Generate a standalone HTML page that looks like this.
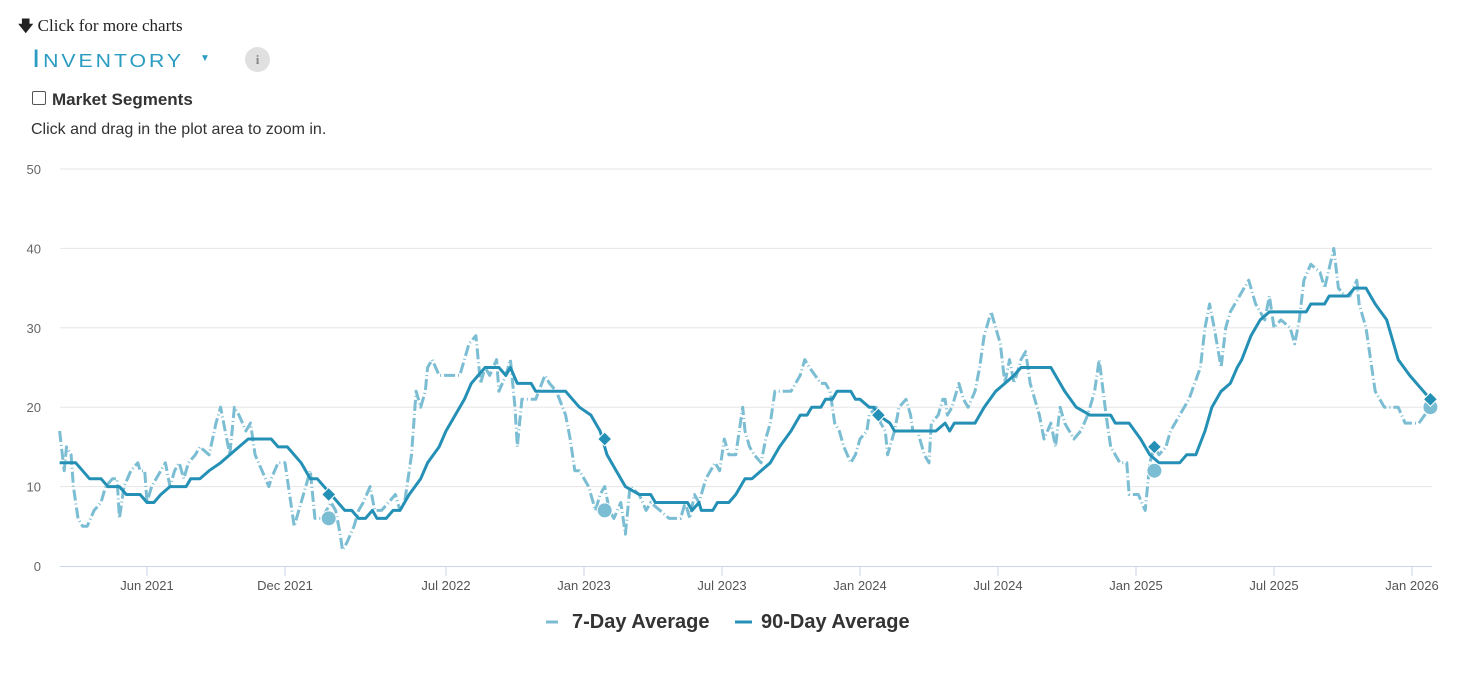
<!DOCTYPE html>
<html><head><meta charset="utf-8">
<style>
body{margin:0;width:1484px;height:674px;background:#fff;position:relative;overflow:hidden;font-family:"Liberation Sans",sans-serif;}
.abs{position:absolute;white-space:nowrap;}
</style></head><body>
<div class="abs" style="left:18px;top:16px;font-family:'Liberation Serif',serif;font-size:17px;color:#222;"><span style="font-family:'DejaVu Sans';font-weight:bold;font-size:15px">🡇</span> Click for more charts</div>
<div class="abs" style="left:32px;top:45px;font-size:25px;color:#2a9cc2;letter-spacing:2.5px;font-variant:small-caps;transform:scaleX(1.18);transform-origin:0 0;">Inventory</div>
<div class="abs" style="left:200px;top:53px;font-size:10px;color:#2a9cc2;">▼</div>
<div class="abs" style="left:245px;top:47px;width:25px;height:25px;border-radius:50%;background:#e0e0e0;color:#888;font-size:13px;font-weight:bold;text-align:center;line-height:25px;font-family:'Liberation Serif',serif;">i</div>
<div class="abs" style="left:32px;top:91px;width:12px;height:12px;border:1px solid #555;border-radius:2px;"></div>
<div class="abs" style="left:52px;top:90px;font-size:17px;font-weight:bold;color:#333;">Market Segments</div>
<div class="abs" style="left:31px;top:121px;font-size:16px;color:#333;">Click and drag in the plot area to zoom in.</div>
<svg id="chart" width="1484" height="674" style="position:absolute;left:0;top:0"></svg>
<script>
const yTicks=[0,10,20,30,40,50];
const xTickMonths=[5,11,18,24,30,36,42,48,54,60];
const xTickLabels=["Jun 2021","Dec 2021","Jul 2022","Jan 2023","Jul 2023","Jan 2024","Jul 2024","Jan 2025","Jul 2025","Jan 2026"];
const d90=[1.2,1.9,2.2,2.5,3.0,3.3,3.8,4.1,4.7,5.0,5.3,5.6,6.0,6.7,6.9,7.3,7.7,8.2,8.6,9.0,9.4,10.4,10.7,11.1,11.7,12.1,12.4,13.0,13.6,13.9,14.2,14.5,14.8,15.0,15.4,15.7,16.0,16.4,16.9,17.2,17.7,18.0,18.4,18.8,19.1,19.4,19.7,20.3,20.6,20.8,21.1,21.7,21.9,23.2,23.5,23.8,24.3,24.5,24.7,25.0,25.4,25.8,26.4,26.9,27.1,28.2,28.5,28.7,29.0,29.1,29.6,29.8,30.3,30.6,31.0,31.3,31.7,32.1,32.5,33.0,33.4,33.7,33.9,34.3,34.5,34.8,35.0,35.6,35.8,36.0,36.4,36.6,36.8,37.3,37.5,39.3,39.7,39.9,40.1,41.0,41.4,41.9,42.3,42.7,43.0,44.3,44.9,45.4,46.0,46.9,47.1,47.7,48.2,48.6,49.0,49.9,50.2,50.6,51.0,51.3,51.7,52.1,52.4,52.6,53.0,53.4,53.8,55.4,55.6,56.2,56.4,57.2,57.5,58.0,58.4,58.9,59.1,59.4,59.9,60.8];
const v90=[13,13,12,11,11,10,10,9,9,8,8,9,10,10,11,11,12,13,14,15,16,16,15,15,13,11,11,9,7,7,6,6,7,6,6,7,7,9,11,13,15,17,19,21,23,24,25,25,24,25,23,23,22,22,21,20,19,18,17,14,12,10,9,9,8,8,8,7,8,7,7,8,8,9,11,11,12,13,15,17,19,19,20,20,21,21,22,22,21,21,20,20,19,18,17,17,18,17,18,18,20,22,23,24,25,25,22,20,19,19,18,18,16,14,13,13,14,14,17,20,22,23,25,26,29,31,32,32,33,33,34,34,35,35,33,31,29,26,24,21];
const d7=[1.2,1.4,1.5,1.7,1.8,2.0,2.2,2.4,2.7,3.0,3.2,3.5,3.7,3.8,4.0,4.3,4.6,4.7,4.9,5.0,5.2,5.6,5.8,6.0,6.2,6.4,6.6,6.8,7.1,7.3,7.7,8.0,8.2,8.4,8.6,8.8,9.0,9.3,9.5,9.7,10.0,10.3,10.4,10.7,11.0,11.2,11.4,11.7,11.9,12.1,12.3,12.6,13.0,13.2,13.4,13.5,13.7,14.0,14.2,14.4,14.7,14.9,15.2,15.5,15.8,16.0,16.2,16.5,16.7,16.9,17.1,17.2,17.4,17.7,18.3,18.6,18.8,19.0,19.3,19.5,19.7,19.9,20.2,20.3,20.6,20.8,21.0,21.1,21.3,21.5,21.9,22.3,22.5,22.8,23.2,23.4,23.6,23.8,24.2,24.5,24.7,24.9,25.1,25.3,25.6,25.8,26.0,26.4,26.7,26.9,27.3,27.7,28.2,28.4,28.6,28.8,29.0,29.3,29.7,29.9,30.1,30.3,30.6,30.9,31.0,31.2,31.4,31.7,31.9,32.1,32.3,32.5,33.0,33.4,33.6,33.8,34.3,34.5,34.7,34.9,35.1,35.3,35.6,35.8,36.0,36.3,36.4,36.7,36.9,37.1,37.2,37.5,37.7,38.0,38.2,38.3,38.5,38.8,39.0,39.1,39.4,39.6,39.7,39.8,40.0,40.3,40.5,40.7,41.0,41.2,41.4,41.7,41.9,42.1,42.3,42.5,42.7,43.0,43.2,43.4,43.6,43.8,44.0,44.3,44.5,44.7,44.9,45.1,45.3,45.6,45.9,46.2,46.4,46.7,46.9,47.1,47.3,47.6,47.7,48.1,48.4,48.6,48.8,49.0,49.3,49.5,49.7,49.9,50.3,50.8,51.0,51.2,51.4,51.7,51.9,52.1,52.5,52.9,53.2,53.6,53.8,54.0,54.3,54.7,54.9,55.1,55.3,55.6,56.0,56.2,56.6,56.8,57.1,57.3,57.6,57.7,58.0,58.2,58.4,58.6,58.8,59.4,59.7,60.3,60.8];
const v7=[17,12,15,14,10,6,5,5,7,8,10,11,11,6,10,12,13,12,12,8,10,12,13,10,12,13,11,13,14,15,14,18,20,17,14,20,19,17,18,14,12,10,11,13,13,9,5,8,10,12,6,6,8,7,4,2,3,5,7,8,10,7,7,8,9,7,8,14,22,20,22,25,26,24,24,24,26,28,29,23,25,24,26,22,24,26,20,15,21,21,21,24,23,22,19,16,12,12,10,7,9,10,7,6,8,4,10,9,7,8,7,6,6,8,6,9,8,11,13,12,16,14,14,20,17,15,14,13,16,18,22,22,22,24,26,25,23,23,22,18,17,15,13,14,16,17,19,20,18,17,14,17,20,21,19,17,17,14,13,18,19,21,21,19,20,23,21,20,22,25,29,32,30,28,23,26,23,26,27,23,21,19,16,18,15,20,18,17,16,17,19,22,26,19,15,14,13,13,9,9,7,13,15,14,15,17,18,19,21,25,30,33,30,25,30,32,34,36,33,31,34,30,31,30,28,31,36,38,37,35,40,35,34,34,36,33,30,26,22,21,20,20,18,18,20];
const diamondMonths=[12.9,24.9,36.8,48.8,60.8];
const diamondValues=[9,16,19,15,21];
const circleMonths=[12.9,24.9,48.8,60.8];
const circleValues=[6,7,12,20];

const NS="http://www.w3.org/2000/svg";
const svg=document.getElementById('chart');
const X0=60,X1=1432,Y0=566,PXM=23;
function xs(m){return 32+m*PXM;}
function ys(v){return Y0-v*7.94;}
function mk(t,a,p){const e=document.createElementNS(NS,t);for(const k in a)e.setAttribute(k,a[k]);(p||svg).appendChild(e);return e;}
yTicks.forEach(t=>{
  if(t>0){const g=mk('line',{x1:X0,x2:X1,y1:ys(t),y2:ys(t),stroke:'#e6e6e6','stroke-width':1});
  
  }
  const l=mk('text',{x:41,y:ys(t)+5,'text-anchor':'end','font-size':13,fill:'#666','font-family':'Liberation Sans'});
  l.textContent=t;
  
  
});
const ax=mk('line',{x1:X0,x2:X1,y1:Y0+0.5,y2:Y0+0.5,stroke:'#ccd6eb','stroke-width':1});


xTickMonths.forEach((m,i)=>{
  const tk=mk('line',{x1:xs(m),x2:xs(m),y1:Y0,y2:Y0+10,stroke:'#ccd6eb'});
  
  
  const l=mk('text',{x:xs(m),y:590,'text-anchor':'middle','font-size':13,fill:'#555','font-family':'Liberation Sans'});
  l.textContent=xTickLabels[i];
  
  
});
function path(d,v){return d.map((m,i)=>(i?'L':'M')+xs(m).toFixed(1)+','+ys(v[i]).toFixed(1)).join('');}
const p7=mk('path',{d:path(d7,v7),fill:'none',stroke:'#7bbdd3','stroke-width':3,'stroke-dasharray':'11,3,1,3','stroke-linejoin':'round'});


const p90=mk('path',{d:path(d90,v90),fill:'none',stroke:'#2590b5','stroke-width':3,'stroke-linejoin':'round'});


circleMonths.forEach((m,i)=>{
  const c=mk('circle',{cx:xs(m),cy:ys(circleValues[i]),r:7.5,fill:'#7bbdd3',stroke:'#fff','stroke-width':1});
  
  
});
diamondMonths.forEach((m,i)=>{
  const x=xs(m),y=ys(diamondValues[i]);
  const c=mk('path',{d:`M${x},${y-7}L${x+7},${y}L${x},${y+7}L${x-7},${y}Z`,fill:'#2590b5',stroke:'#fff','stroke-width':1});
  
  
});
// legend
const lg=mk('g',{});


const li1=mk('line',{x1:546,x2:558,y1:622,y2:622,stroke:'#7bbdd3','stroke-width':3},lg);


const lt1=mk('text',{x:572,y:628,'font-size':20,'font-weight':'bold',fill:'#333','font-family':'Liberation Sans'},lg);
lt1.textContent='7-Day Average';


const li2=mk('line',{x1:735,x2:752,y1:622,y2:622,stroke:'#2590b5','stroke-width':3},lg);


const lt2=mk('text',{x:761,y:628,'font-size':20,'font-weight':'bold',fill:'#333','font-family':'Liberation Sans'},lg);
lt2.textContent='90-Day Average';


</script>
</body></html>
